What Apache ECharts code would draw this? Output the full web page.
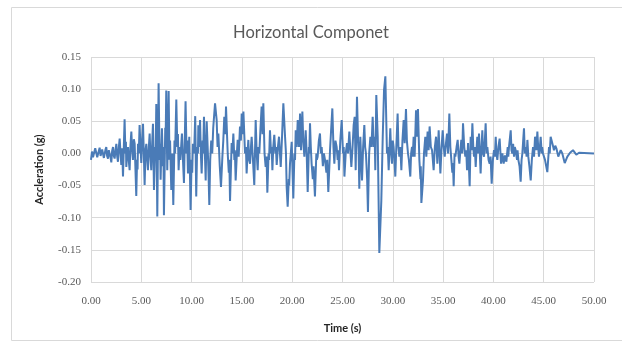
<!DOCTYPE html>
<html>
<head>
<meta charset="utf-8">
<script src="https://cdn.jsdelivr.net/npm/echarts@6/dist/echarts.min.js"></script>
<style>
  html, body { margin: 0; padding: 0; background: #fff; }
  #chart { width: 622px; height: 349px; }
</style>
</head>
<body>
<div id="chart"></div>
<script>
// time (s) of each vertex, ten per row
const time = [
  0.00, 0.10, 0.20, 0.30, 0.42, 0.53, 0.62, 0.70, 0.78, 0.86,
  0.95, 1.03, 1.11, 1.19, 1.28, 1.36, 1.44, 1.52, 1.60, 1.69,
  1.77, 1.85, 1.94, 2.02, 2.10, 2.19, 2.27, 2.35, 2.44, 2.52,
  2.60, 2.68, 2.77, 2.85, 2.93, 3.01, 3.10, 3.18, 3.34, 3.42,
  3.47, 3.51, 3.60, 3.68, 3.76, 3.84, 3.92, 4.01, 4.09, 4.17,
  4.26, 4.34, 4.50, 4.58, 4.63, 4.67, 4.75, 4.83, 4.92, 5.00,
  5.08, 5.17, 5.25, 5.33, 5.42, 5.50, 5.58, 5.66, 5.75, 5.83,
  5.91, 5.99, 6.08, 6.16, 6.26, 6.38, 6.42, 6.49, 6.59, 6.72,
  6.82, 6.87, 6.92, 7.00, 7.05, 7.15, 7.20, 7.25, 7.38, 7.42,
  7.48, 7.58, 7.65, 7.72, 7.80, 7.86, 7.98, 8.08, 8.18, 8.30,
  8.36, 8.48, 8.58, 8.64, 8.71, 8.80, 8.88, 9.04, 9.14, 9.24,
  9.32, 9.40, 9.50, 9.56, 9.64, 9.77, 9.90, 10.00, 10.06, 10.13,
  10.25, 10.36, 10.46, 10.55, 10.63, 10.67, 10.76, 10.84, 10.92, 11.00,
  11.10, 11.15, 11.23, 11.32, 11.40, 11.50, 11.62, 11.68, 11.76, 11.85,
  11.95, 12.05, 12.15, 12.33, 12.49, 12.58, 12.66, 12.80, 12.92, 13.06,
  13.15, 13.25, 13.35, 13.42, 13.59, 13.70, 13.75, 13.82, 13.98, 14.05,
  14.15, 14.25, 14.30, 14.38, 14.50, 14.58, 14.68, 14.81, 14.90, 14.98,
  15.06, 15.15, 15.31, 15.40, 15.47, 15.56, 15.64, 15.72, 15.81, 15.90,
  15.97, 16.10, 16.23, 16.37, 16.47, 16.57, 16.65, 16.73, 16.85, 16.96,
  17.05, 17.13, 17.25, 17.36, 17.45, 17.53, 17.65, 17.70, 17.79, 17.90,
  17.96, 18.03, 18.12, 18.22, 18.33, 18.38, 18.46, 18.58, 18.69, 18.78,
  18.86, 19.00, 19.12, 19.29, 19.38, 19.45, 19.55, 19.66, 19.70, 19.78,
  19.95, 20.11, 20.22, 20.28, 20.35, 20.45, 20.55, 20.68, 20.78, 20.88,
  21.01, 21.10, 21.21, 21.34, 21.44, 21.54, 21.66, 21.70, 21.77, 21.85,
  21.93, 22.05, 22.12, 22.26, 22.40, 22.45, 22.53, 22.65, 22.76, 22.85,
  22.93, 23.05, 23.15, 23.26, 23.40, 23.48, 23.59, 23.76, 23.88, 23.99,
  24.10, 24.19, 24.30, 24.42, 24.52, 24.58, 24.65, 24.78, 24.92, 25.05,
  25.12, 25.19, 25.32, 25.45, 25.55, 25.68, 25.78, 25.88, 26.00, 26.11,
  26.21, 26.31, 26.44, 26.55, 26.61, 26.67, 26.77, 26.86, 26.94, 27.05,
  27.17, 27.25, 27.33, 27.45, 27.53, 27.65, 27.77, 27.88, 28.00, 28.10,
  28.20, 28.26, 28.36, 28.50, 28.66, 28.86, 29.00, 29.13, 29.26, 29.42,
  29.50, 29.59, 29.75, 29.84, 29.92, 30.00, 30.08, 30.16, 30.25, 30.35,
  30.48, 30.56, 30.65, 30.75, 30.85, 30.96, 31.08, 31.18, 31.31, 31.40,
  31.51, 31.60, 31.74, 31.82, 31.91, 31.98, 32.07, 32.17, 32.31, 32.40,
  32.50, 32.64, 32.75, 32.78, 32.84, 33.00, 33.10, 33.23, 33.33, 33.46,
  33.56, 33.66, 33.78, 33.90, 33.98, 34.06, 34.18, 34.30, 34.43, 34.56,
  34.65, 34.73, 34.85, 34.96, 35.06, 35.16, 35.28, 35.39, 35.49, 35.62,
  35.72, 35.82, 35.92, 35.98, 36.05, 36.14, 36.22, 36.34, 36.45, 36.54,
  36.62, 36.72, 36.81, 36.90, 36.98, 37.10, 37.21, 37.30, 37.38, 37.48,
  37.64, 37.74, 37.82, 37.91, 38.00, 38.07, 38.15, 38.24, 38.32, 38.40,
  38.48, 38.57, 38.65, 38.73, 38.82, 38.90, 38.98, 39.07, 39.15, 39.23,
  39.32, 39.40, 39.52, 39.63, 39.72, 39.83, 39.95, 40.06, 40.15, 40.23,
  40.30, 40.39, 40.50, 40.62, 40.76, 40.89, 41.02, 41.15, 41.29, 41.42,
  41.48, 41.55, 41.72, 41.80, 41.88, 41.96, 42.05, 42.13, 42.21, 42.35,
  42.40, 42.48, 42.60, 42.71, 42.80, 42.88, 42.96, 43.04, 43.12, 43.21,
  43.30, 43.38, 43.47, 43.58, 43.71, 43.82, 43.94, 44.04, 44.14, 44.27,
  44.37, 44.45, 44.53, 44.62, 44.70, 44.80, 44.85, 44.93, 45.13, 45.36,
  45.53, 45.60, 45.69, 45.86, 45.95, 46.02, 46.15, 46.26, 46.45, 46.69,
  46.85, 47.09, 47.35, 47.62, 47.91, 48.24, 48.51, 50.00
];

// acceleration (g) at those vertices, same rows
const accel = [
  -0.010, 0.003, -0.006, -0.003, 0.008, 0.005, -0.006, -0.005, 0.004, 0.009,
  -0.004, -0.006, 0.006, 0.008, -0.007, -0.005, 0.006, 0.010, -0.004, -0.008,
  0.005, 0.008, -0.006, -0.014, 0.004, 0.010, -0.004, -0.008, 0.006, 0.015,
  -0.004, -0.013, 0.010, 0.023, 0.002, -0.018, 0.008, -0.036, 0.053, 0.000,
  0.018, -0.021, 0.000, 0.010, -0.012, -0.026, 0.012, 0.034, 0.005, -0.010,
  0.022, 0.015, -0.066, -0.010, -0.025, 0.015, 0.000, 0.044, 0.010, -0.015,
  0.020, 0.046, 0.000, -0.049, 0.005, 0.015, -0.008, -0.026, 0.010, 0.031,
  -0.005, -0.026, 0.015, 0.046, -0.057, 0.010, -0.010, 0.077, -0.098, 0.109,
  -0.010, 0.015, -0.041, 0.010, 0.039, -0.020, 0.010, -0.096, 0.040, 0.020,
  0.098, -0.026, 0.030, 0.097, -0.010, 0.020, -0.057, 0.000, -0.080, 0.020,
  0.000, 0.084, 0.010, 0.030, -0.026, 0.010, -0.010, 0.031, -0.010, -0.046,
  0.020, 0.081, 0.000, 0.020, -0.031, 0.026, -0.088, -0.010, -0.030, 0.015,
  0.000, 0.058, -0.067, 0.010, 0.000, 0.044, 0.010, 0.052, 0.000, -0.031,
  0.020, 0.000, 0.057, 0.000, -0.042, 0.050, 0.000, -0.030, -0.080, -0.010,
  0.020, 0.000, 0.040, 0.078, 0.052, 0.010, 0.031, -0.020, -0.052, -0.005,
  0.020, 0.057, 0.030, 0.073, 0.000, -0.030, -0.010, -0.074, 0.016, 0.000,
  0.031, -0.010, 0.005, -0.042, 0.000, 0.021, -0.005, 0.042, 0.020, 0.062,
  0.030, 0.065, 0.000, 0.010, -0.031, 0.000, 0.021, -0.010, -0.016, 0.010,
  0.026, -0.010, -0.049, 0.052, 0.000, -0.026, 0.010, 0.000, 0.040, 0.073,
  0.030, 0.078, 0.000, -0.021, -0.005, -0.061, 0.000, -0.010, 0.036, 0.000,
  0.010, -0.026, 0.010, 0.029, 0.000, 0.010, -0.018, 0.010, 0.026, 0.000,
  -0.021, 0.030, 0.078, 0.026, 0.000, -0.052, -0.083, -0.040, -0.050, -0.016,
  0.018, -0.070, 0.000, -0.010, 0.036, 0.010, 0.052, 0.010, 0.062, 0.005,
  0.065, 0.020, -0.005, 0.036, 0.000, -0.060, 0.010, 0.000, 0.047, 0.010,
  -0.016, -0.040, -0.020, -0.067, 0.000, -0.010, -0.005, 0.020, 0.031, 0.000,
  0.010, -0.020, 0.000, -0.010, -0.030, -0.010, -0.060, 0.005, 0.040, 0.070,
  0.010, -0.016, 0.020, 0.010, -0.010, 0.005, -0.026, 0.020, 0.052, 0.000,
  0.010, -0.036, 0.000, 0.016, 0.000, 0.034, 0.005, -0.021, 0.010, 0.044,
  0.057, -0.026, 0.088, 0.020, 0.000, -0.055, 0.026, -0.010, -0.042, 0.010,
  0.044, 0.010, 0.000, -0.040, -0.091, 0.000, 0.026, 0.010, 0.057, 0.010,
  0.026, -0.026, 0.091, 0.026, -0.155, -0.073, 0.026, 0.099, 0.120, 0.000,
  0.010, -0.026, 0.039, 0.000, -0.016, 0.020, 0.010, -0.010, -0.036, 0.010,
  0.062, 0.010, -0.005, 0.010, -0.026, 0.020, 0.052, 0.016, 0.069, 0.020,
  0.000, -0.010, -0.036, 0.000, 0.010, -0.005, 0.026, -0.005, 0.067, 0.026,
  0.069, -0.010, -0.040, -0.020, -0.077, -0.042, 0.000, 0.026, -0.005, 0.034,
  0.005, 0.042, 0.010, 0.005, -0.010, -0.026, 0.010, 0.026, -0.016, 0.036,
  0.000, -0.031, 0.010, 0.036, 0.010, -0.005, 0.015, 0.031, 0.000, 0.062,
  0.010, -0.010, -0.030, -0.015, -0.051, 0.000, -0.005, 0.010, 0.021, -0.005,
  -0.016, 0.005, 0.021, 0.000, 0.047, 0.010, -0.005, 0.005, -0.026, 0.016,
  -0.051, 0.026, 0.005, 0.047, 0.010, -0.005, 0.010, -0.021, 0.005, 0.026,
  0.000, 0.031, 0.000, -0.031, 0.010, 0.036, 0.000, -0.005, 0.020, 0.047,
  0.000, 0.010, -0.010, -0.016, -0.005, -0.047, -0.010, 0.005, -0.005, 0.026,
  0.000, -0.010, 0.010, 0.023, -0.016, 0.000, -0.016, -0.003, -0.013, 0.010,
  -0.005, 0.010, 0.036, 0.005, 0.000, 0.015, -0.005, 0.010, 0.005, -0.010,
  0.005, -0.010, -0.020, -0.044, -0.010, 0.000, 0.020, 0.039, 0.000, 0.010,
  -0.005, 0.021, -0.005, -0.020, -0.042, -0.010, 0.010, -0.005, 0.026, 0.005,
  0.034, 0.010, -0.005, 0.010, 0.026, 0.000, 0.010, 0.000, -0.010, -0.029,
  0.010, 0.000, 0.026, 0.029, 0.010, 0.005, 0.012, 0.008, -0.005, 0.005,
  0.000, -0.015, -0.005, 0.001, 0.005, -0.002, 0.001, 0.000
];

if (time.length !== accel.length) {
  throw new Error('time/accel length mismatch: ' + time.length + ' vs ' + accel.length);
}

const chart = echarts.init(document.getElementById('chart'));
const gridColor = '#d9d9d9';
const labelColor = '#595959';
const lineColor = '#4a7bb7';

chart.setOption({
  animation: false,
  title: {
    text: 'Horizontal Componet',
    left: 'center',
    top: 19,
    textStyle: { fontFamily: 'Lato', fontSize: 16.5, fontWeight: 'normal', color: labelColor }
  },
  graphic: [{
    type: 'rect',
    shape: { x: 11.5, y: 7.5, width: 640, height: 333 },
    style: { fill: 'none', stroke: gridColor, lineWidth: 1 },
    silent: true
  }],
  grid: { left: 91, right: 28, top: 57, bottom: 67 },
  xAxis: {
    type: 'value',
    min: 0,
    max: 50,
    interval: 5,
    name: 'Time (s)',
    nameLocation: 'middle',
    nameGap: 41,
    nameTextStyle: { fontFamily: 'Lato', fontSize: 11, fontWeight: 'bold', color: '#262626' },
    axisLine: { show: false },
    axisTick: { show: false },
    axisLabel: {
      margin: 14,
      fontFamily: 'Liberation Serif',
      fontSize: 11,
      color: labelColor,
      formatter: v => v.toFixed(2)
    },
    splitLine: { show: true, lineStyle: { color: gridColor, width: 1 } }
  },
  yAxis: {
    type: 'value',
    min: -0.2,
    max: 0.15,
    interval: 0.05,
    name: 'Accleration (g)',
    nameLocation: 'middle',
    nameGap: 46,
    nameTextStyle: { fontFamily: 'Lato', fontSize: 11, fontWeight: 'bold', color: '#262626' },
    axisLine: { show: false },
    axisTick: { show: false },
    axisLabel: {
      margin: 10,
      fontFamily: 'Liberation Serif',
      fontSize: 11,
      color: labelColor,
      formatter: v => v.toFixed(2)
    },
    splitLine: { show: true, lineStyle: { color: gridColor, width: 1 } }
  },
  series: [{
    type: 'line',
    data: time.map((t, i) => [t, accel[i]]),
    showSymbol: false,
    lineStyle: { color: lineColor, width: 2 },
    itemStyle: { color: lineColor }
  }]
});
</script>
</body>
</html>
